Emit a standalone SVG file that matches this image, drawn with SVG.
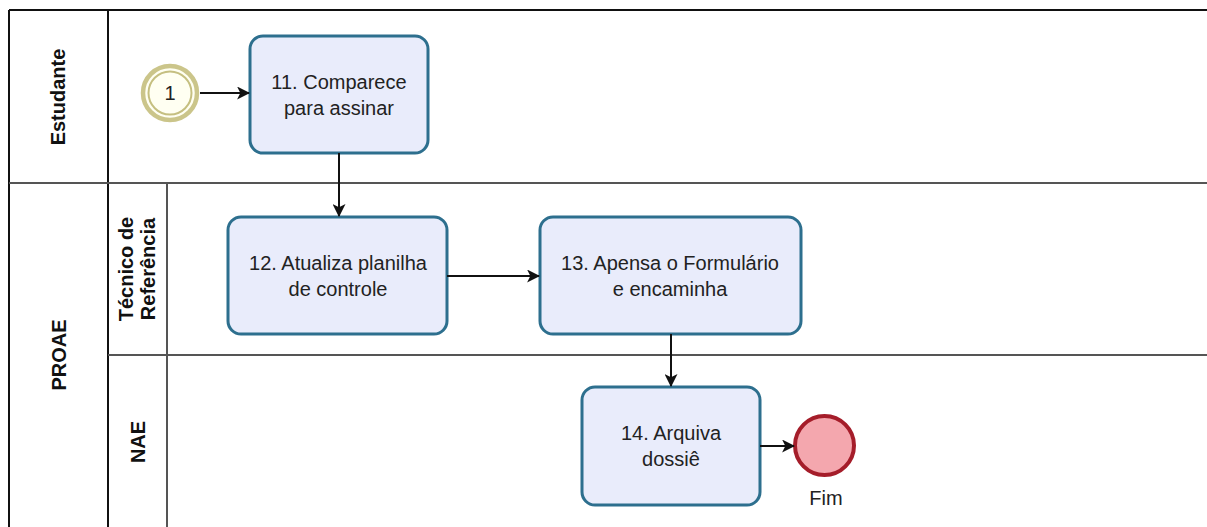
<svg xmlns="http://www.w3.org/2000/svg" width="1207" height="527" viewBox="0 0 1207 527">
<style>
.lane{stroke:#555;stroke-width:2;fill:none}
.pool{stroke:#111;stroke-width:2;fill:none}
.hdr{font-family:"Liberation Sans",Arial,sans-serif;font-weight:bold;font-size:20px;fill:#111;text-anchor:middle}
.task{fill:#e9ecfb;stroke:#2d6f8e;stroke-width:3}
.tt{font-family:"Liberation Sans",Arial,sans-serif;font-size:20px;fill:#222;text-anchor:middle}
.flow{stroke:#111;stroke-width:2;fill:none;marker-end:url(#arr)}
</style>
<defs>
<marker id="arr" viewBox="0 0 12 12" refX="11" refY="6" markerWidth="13" markerHeight="13" markerUnits="userSpaceOnUse" orient="auto">
<path d="M0,0 L12,6 L0,12 L3,6 Z" fill="#111"/>
</marker>
</defs>
<rect width="1207" height="527" fill="#fff"/>
<g id="pools">
<line class="pool" x1="9" y1="10" x2="1207" y2="10"/>
<line class="pool" x1="9" y1="10" x2="9" y2="527"/>
<line class="pool" x1="108" y1="10" x2="108" y2="527"/>
<line class="lane" x1="9" y1="183" x2="1207" y2="183"/>
<line class="lane" x1="167" y1="183" x2="167" y2="527"/>
<line class="lane" x1="108" y1="355" x2="1207" y2="355"/>
<text class="hdr" transform="translate(65,97) rotate(-90)">Estudante</text>
<text class="hdr" transform="translate(66,355) rotate(-90)">PROAE</text>
<text class="hdr" transform="translate(133,269) rotate(-90)">Técnico de</text>
<text class="hdr" transform="translate(155,269) rotate(-90)">Referência</text>
<text class="hdr" transform="translate(145,442) rotate(-90)">NAE</text>
</g>
<g id="start">
<circle cx="170" cy="93" r="27" fill="#fffff2" stroke="#cbc58a" stroke-width="4.5"/>
<circle cx="170" cy="93" r="21.5" fill="none" stroke="#c5bf80" stroke-width="2"/>
<text class="tt" x="170" y="100">1</text>
</g>
<g id="task11">
<rect class="task" x="250" y="36" width="178" height="117" rx="13"/>
<text class="tt" x="339" y="89">11. Comparece</text>
<text class="tt" x="339" y="115">para assinar</text>
</g>
<g id="task12">
<rect class="task" x="228" y="217" width="219" height="117" rx="13"/>
<text class="tt" x="338" y="270">12. Atualiza planilha</text>
<text class="tt" x="338" y="296">de controle</text>
</g>
<g id="task13">
<rect class="task" x="540" y="217" width="261" height="117" rx="13"/>
<text class="tt" x="670" y="270">13. Apensa o Formulário</text>
<text class="tt" x="670" y="296">e encaminha</text>
</g>
<g id="task14">
<rect class="task" x="582" y="387" width="178" height="118" rx="13"/>
<text class="tt" x="671" y="440">14. Arquiva</text>
<text class="tt" x="671" y="466">dossiê</text>
</g>
<g id="end">
<circle cx="824.5" cy="445.5" r="29.5" fill="#f4a7ae" stroke="#a51d2a" stroke-width="4"/>
<text class="tt" x="826" y="505">Fim</text>
</g>
<g id="connectors">
<line class="flow" x1="200" y1="93" x2="249" y2="93"/>
<line class="flow" x1="339" y1="153" x2="339" y2="216"/>
<line class="flow" x1="447" y1="276" x2="539" y2="276"/>
<line class="flow" x1="671" y1="334" x2="671" y2="386"/>
<line class="flow" x1="760" y1="446" x2="794" y2="446"/>
</g>
</svg>
